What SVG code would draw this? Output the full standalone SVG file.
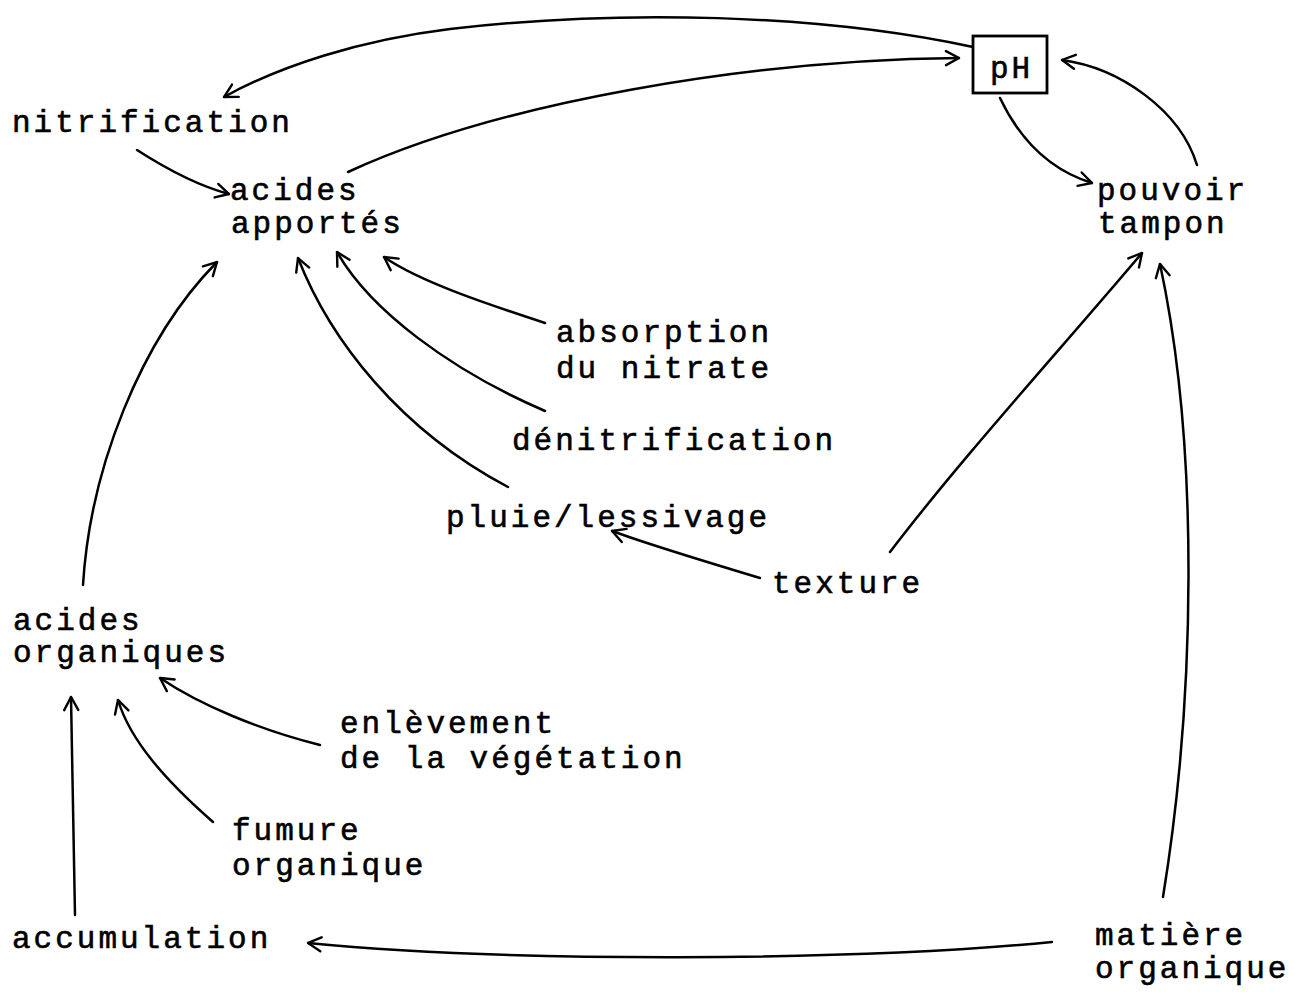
<svg xmlns="http://www.w3.org/2000/svg" width="1295" height="992" viewBox="0 0 1295 992">
  <style>
    .lbl { font-family: "Liberation Mono", "DejaVu Sans Mono", monospace; font-size: 31px; letter-spacing: 3px; fill: #000; stroke: #000; stroke-width: 0.6px; }
    .edge { fill: none; stroke: #000; stroke-width: 2.5; stroke-linecap: round; marker-end: url(#head); }
    .box { fill: #fff; stroke: #000; stroke-width: 2.8; }
  </style>
  <defs>
    <marker id="head" markerUnits="userSpaceOnUse" markerWidth="20" markerHeight="20" viewBox="0 0 20 20" refX="19" refY="10" orient="auto">
      <path d="M6,3 L19,10 L6,17" fill="none" stroke="#000" stroke-width="2.4" stroke-linecap="round" stroke-linejoin="miter"/>
    </marker>
  </defs>
  <rect width="1295" height="992" fill="#fff"/>

  <!-- connectors -->
  <g id="connectors">
    <!-- pH -> nitrification (top arc) -->
    <path class="edge" d="M973,47 C820,14 620,9 450,29 C360,40 280,66 224,97"/>
    <!-- acides apportés -> pH -->
    <path class="edge" d="M348,172 C500,102 750,60 959,58"/>
    <!-- pH -> pouvoir tampon -->
    <path class="edge" d="M1000,98 C1020,140 1050,170 1092,183"/>
    <!-- pouvoir tampon -> pH -->
    <path class="edge" d="M1197,165 C1180,110 1120,68 1062,60"/>
    <!-- nitrification -> acides apportés -->
    <path class="edge" d="M137,150 C165,168 195,185 229,194"/>
    <!-- acides organiques -> acides apportés -->
    <path class="edge" d="M83,585 C90,470 140,340 217,262"/>
    <!-- absorption du nitrate -> acides apportés -->
    <path class="edge" d="M545,323 C490,305 420,282 384,257"/>
    <!-- dénitrification -> acides apportés -->
    <path class="edge" d="M545,411 C450,370 370,310 337,252"/>
    <!-- pluie/lessivage -> acides apportés -->
    <path class="edge" d="M508,487 C400,430 330,340 298,258"/>
    <!-- texture -> pluie/lessivage -->
    <path class="edge" d="M760,578 C700,560 650,545 612,531"/>
    <!-- texture -> pouvoir tampon -->
    <path class="edge" d="M890,552 C960,460 1060,350 1142,253"/>
    <!-- matière organique -> pouvoir tampon -->
    <path class="edge" d="M1163,897 C1195,700 1200,450 1160,264"/>
    <!-- matière organique -> accumulation -->
    <path class="edge" d="M1052,942 C850,962 500,962 308,943"/>
    <!-- accumulation -> acides organiques -->
    <path class="edge" d="M75,915 L71,697"/>
    <!-- fumure organique -> acides organiques -->
    <path class="edge" d="M213,822 C165,780 130,740 118,700"/>
    <!-- enlèvement de la végétation -> acides organiques -->
    <path class="edge" d="M320,745 C260,730 200,705 160,678"/>
  </g>

  <g id="ph">
    <rect class="box" x="973" y="36" width="74" height="57"/>
    <text class="lbl" x="990" y="78">pH</text>
  </g>
  <g id="nitrification">
    <text class="lbl" x="12" y="132">nitrification</text>
  </g>
  <g id="acides-apportes">
    <text class="lbl" x="230" y="200">acides</text>
    <text class="lbl" x="231" y="233">apportés</text>
  </g>
  <g id="pouvoir-tampon">
    <text class="lbl" x="1097" y="200">pouvoir</text>
    <text class="lbl" x="1098" y="233">tampon</text>
  </g>
  <g id="absorption-nitrate">
    <text class="lbl" x="556" y="342">absorption</text>
    <text class="lbl" x="556" y="378">du nitrate</text>
  </g>
  <g id="denitrification">
    <text class="lbl" x="512" y="450">dénitrification</text>
  </g>
  <g id="pluie-lessivage">
    <text class="lbl" x="446" y="527">pluie/lessivage</text>
  </g>
  <g id="texture">
    <text class="lbl" x="772" y="593">texture</text>
  </g>
  <g id="acides-organiques">
    <text class="lbl" x="13" y="630">acides</text>
    <text class="lbl" x="13" y="662">organiques</text>
  </g>
  <g id="enlevement-vegetation">
    <text class="lbl" x="340" y="733">enlèvement</text>
    <text class="lbl" x="340" y="768">de la végétation</text>
  </g>
  <g id="fumure-organique">
    <text class="lbl" x="232" y="840">fumure</text>
    <text class="lbl" x="232" y="875">organique</text>
  </g>
  <g id="accumulation">
    <text class="lbl" x="12" y="948">accumulation</text>
  </g>
  <g id="matiere-organique">
    <text class="lbl" x="1095" y="945">matière</text>
    <text class="lbl" x="1095" y="978">organique</text>
  </g>
</svg>
